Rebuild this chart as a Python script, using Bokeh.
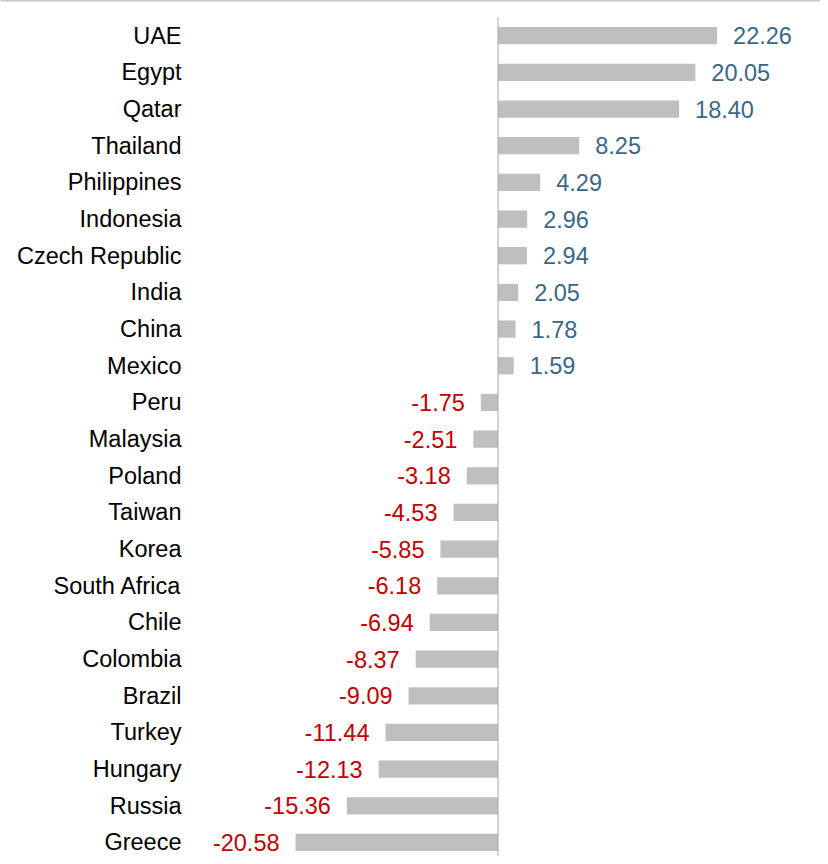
from bokeh.plotting import figure
from bokeh.models import ColumnDataSource, Range1d, FixedTicker
from bokeh.core.properties import value
from bokeh.embed import file_html
from bokeh.resources import INLINE

countries = ["UAE", "Egypt", "Qatar", "Thailand", "Philippines", "Indonesia",
             "Czech Republic", "India", "China", "Mexico", "Peru", "Malaysia",
             "Poland", "Taiwan", "Korea", "South Africa", "Chile", "Colombia",
             "Brazil", "Turkey", "Hungary", "Russia", "Greece"]
values = [22.26, 20.05, 18.40, 8.25, 4.29, 2.96, 2.94, 2.05, 1.78, 1.59,
          -1.75, -2.51, -3.18, -4.53, -5.85, -6.18, -6.94, -8.37, -9.09,
          -11.44, -12.13, -15.36, -20.58]

n = len(countries)
ys = [n - 1 - i for i in range(n)]
labels = ["%.2f" % v for v in values]

FONT = "Liberation Sans"
FSIZE = "23.5px"
X0, X1 = -50.56, 32.77

p = figure(width=820, height=856, output_backend="svg", toolbar_location=None,
           x_range=Range1d(X0, X1), y_range=Range1d(-0.382, 22.96),
           x_axis_location="above", y_axis_location=None,
           min_border=0, min_border_top=0, min_border_left=0,
           min_border_right=0, min_border_bottom=0)
p.outline_line_color = None
p.grid.visible = False
p.background_fill_color = "white"
p.border_fill_color = "white"

ax = p.xaxis[0]
ax.ticker = FixedTicker(ticks=[])
ax.axis_line_color = "#c8c8c8"
ax.axis_line_width = 2
ax.major_tick_line_color = None
ax.minor_tick_line_color = None
ax.major_tick_out = 0
ax.minor_tick_out = 0
ax.major_tick_in = 0
ax.minor_tick_in = 0
ax.major_label_standoff = 0

src = ColumnDataSource(dict(y=ys, v=values, c=countries, lab=labels,
                            x0=[X0] * n))

p.hbar(y="y", left=0, right="v", height=0.47, source=src,
       fill_color="#bfbfbf", line_color=None)

p.segment(x0=[0], y0=[max(ys) + 0.5], x1=[0], y1=[min(ys) - 0.5],
          line_color="#a6a6a6", line_width=1)

p.text(x="x0", y="y", text="c", source=src, x_offset=181,
       text_align="right", text_baseline="middle",
       text_font=value(FONT), text_font_size=FSIZE, text_color="#000000")

pos = [i for i, v in enumerate(values) if v >= 0]
neg = [i for i, v in enumerate(values) if v < 0]
src_pos = ColumnDataSource(dict(x=[values[i] for i in pos], y=[ys[i] for i in pos],
                                t=[labels[i] for i in pos]))
src_neg = ColumnDataSource(dict(x=[values[i] for i in neg], y=[ys[i] for i in neg],
                                t=[labels[i] for i in neg]))
p.text(x="x", y="y", text="t", source=src_pos, x_offset=16,
       text_align="left", text_baseline="middle",
       text_font=value(FONT), text_font_size=FSIZE, text_color="#3a6787")
p.text(x="x", y="y", text="t", source=src_neg, x_offset=-16,
       text_align="right", text_baseline="middle",
       text_font=value(FONT), text_font_size=FSIZE, text_color="#c00000")

open("out.html", "w").write(file_html(p, INLINE))
